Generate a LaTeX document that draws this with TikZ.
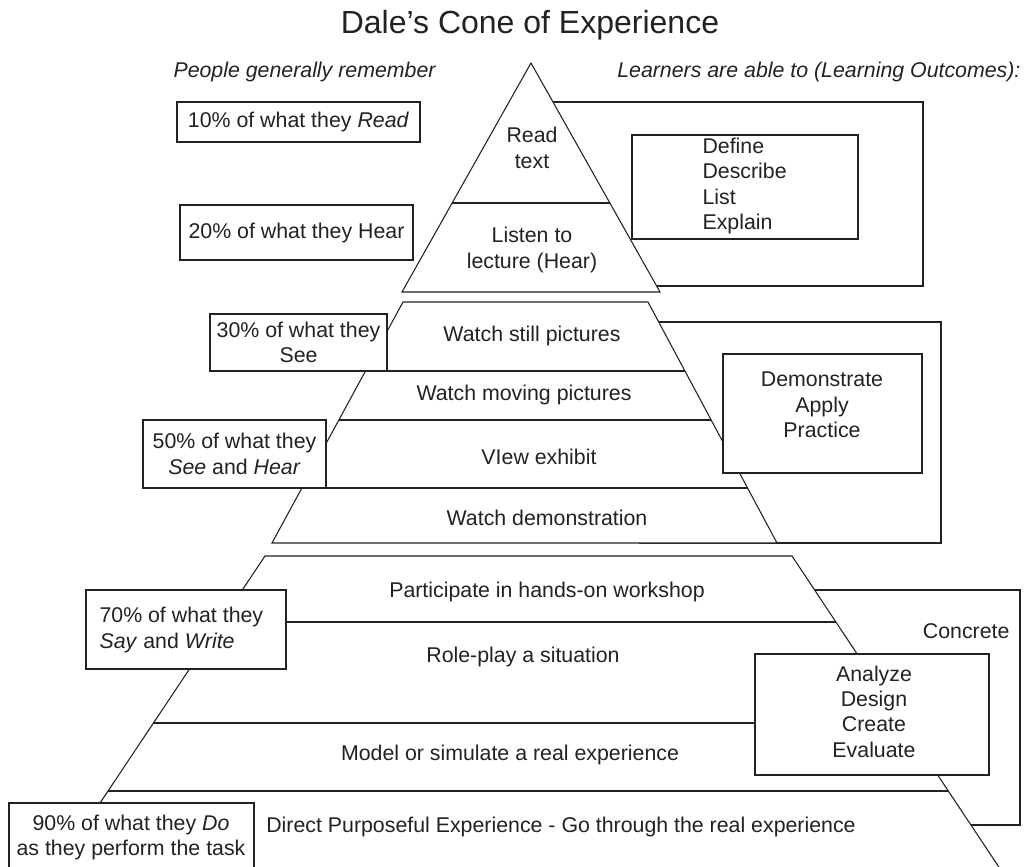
\documentclass[tikz,border=0pt]{standalone}
\usepackage{fontspec}
\setmainfont{Liberation Sans}
\definecolor{ink}{HTML}{222222}
\begin{document}
\begin{tikzpicture}[x=0.75pt,y=-0.75pt,
  line width=0.8pt, draw=ink, text=ink,
  every node/.style={font=\fontsize{16}{19}\selectfont, inner sep=0pt, text=ink},
  lbl/.style={align=center},
  hdr/.style={font=\fontsize{16}{19}\selectfont\itshape},
  tbox/.style={draw=ink, fill=white, rectangle, inner sep=0pt, line width=0.8pt},
  band/.style={draw=ink, fill=white}]
\useasboundingbox (0,0) rectangle (1026,867);

% frames around the learning outcome groups (left parts hidden by the cone)
\draw (540,102) rectangle (923,286);
\draw (640,322) rectangle (941,543);
\draw (780,590) rectangle (1020,825);

% top of the cone: abstract experiences
\draw[band] (531,63) -- (660,292) -- (402,292) -- cycle;
\draw (452.1,203) -- (609.9,203);

% middle of the cone: observing
\draw[band] (403,302) -- (648,302) -- (777,543) -- (272,543) -- cycle;
\draw (365.5,371) -- (684.9,371);
\draw (338.9,420) -- (711.2,420);
\draw (301.9,488) -- (747.6,488);

% base of the cone: doing
\draw[band] (265,556) -- (792,556) -- (1007.5,880) -- (48.6,880) -- cycle;
\draw (220.9,622) -- (835.9,622);
\draw (153.4,723) -- (903,723);
\draw (108.0,791) -- (948.3,791);

% title and column headings
\node[font=\fontsize{24}{28}\selectfont] (title) at (530,25) {Dale’s Cone of Experience};
\node[hdr, anchor=west] (hleft) at (173,72) {People generally remember};
\node[hdr, anchor=east] (hright) at (1021,72) {Learners are able to (Learning Outcomes):};

% retention boxes
\node[tbox, minimum width=182.25pt, minimum height=30pt] (b10) at (298.5,122) {10\% of what they \textit{Read}};
\node[tbox, minimum width=174.75pt, minimum height=41.25pt] (b20) at (296.5,232.5) {20\% of what they Hear};
\node[tbox, lbl, minimum width=132.75pt, minimum height=42.75pt] (b30) at (298.5,342.5) {30\% of what they\\See};
\node[tbox, lbl, minimum width=137.25pt, minimum height=51pt] (b50) at (234.5,454) {50\% of what they\\\textit{See} and \textit{Hear}};
\node[tbox, minimum width=150pt, minimum height=59.25pt] (b70) at (186,629.5) {};
\node[anchor=west, align=left] (t70) at (99,630) {70\% of what they\\\textit{Say} and \textit{Write}};
\node[tbox, minimum width=183.75pt, minimum height=57.75pt] (b90) at (131.5,841.5) {};
\node[lbl] (t90) at (131,837.5) {90\% of what they \textit{Do}\\as they perform the task};

% learning outcome boxes
\node[tbox, minimum width=169.5pt, minimum height=78pt] (bdef) at (745,187) {};
\node[anchor=west, align=left] (tdef) at (702,186) {Define\\Describe\\List\\Explain};
\node[tbox, minimum width=149.25pt, minimum height=89.25pt] (bdem) at (822.5,413.5) {};
\node[lbl] (tdem) at (822,405) {Demonstrate\\Apply\\Practice};
\node[tbox, minimum width=175.5pt, minimum height=90.75pt] (bana) at (872,714.5) {};
\node[lbl] (tana) at (874,711.5) {Analyze\\Design\\Create\\Evaluate};
\node[anchor=east] (conc) at (1010,631) {Concrete};

% cone band labels
\node[lbl] (l1) at (532,148) {Read\\text};
\node[lbl] (l2) at (532,250) {Listen to\\lecture (Hear)};
\node (l3) at (532,336) {Watch still pictures};
\node (l4) at (524,395) {Watch moving pictures};
\node (l5) at (539,457) {VIew exhibit};
\node (l6) at (547,518) {Watch demonstration};
\node (l7) at (547,592) {Participate in hands-on workshop};
\node (l8) at (523,657) {Role-play a situation};
\node (l9) at (510,755) {Model or simulate a real experience};
\node (l10) at (561,827) {Direct Purposeful Experience - Go through the real experience};
\end{tikzpicture}
\end{document}
